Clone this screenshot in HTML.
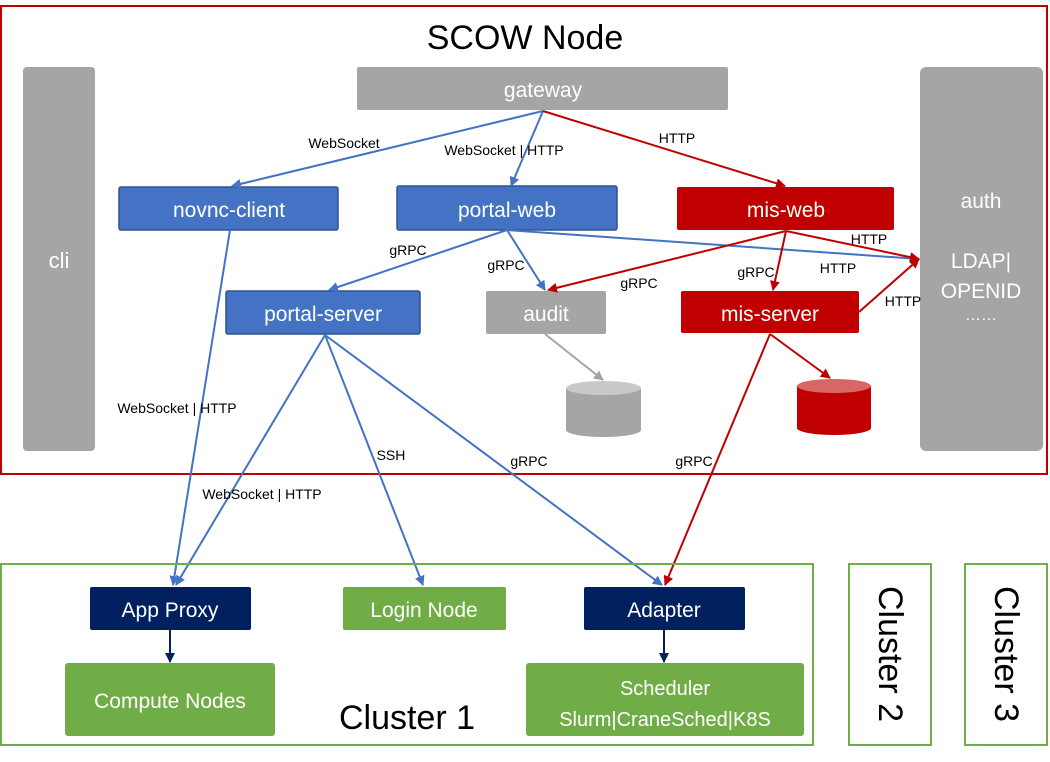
<!DOCTYPE html>
<html><head><meta charset="utf-8"><style>
html,body{margin:0;padding:0;background:#fff;width:1050px;height:762px;overflow:hidden}
svg text{font-family:"Liberation Sans","Noto Sans CJK SC",sans-serif}
</style></head><body>
<svg width="1050" height="762" viewBox="0 0 1050 762" xmlns="http://www.w3.org/2000/svg">
<defs>
<marker id="ab" markerWidth="10" markerHeight="10" refX="9" refY="5" orient="auto" markerUnits="userSpaceOnUse"><path d="M0,0 L10,5 L0,10 z" fill="#4472c4"/></marker>
<marker id="ar" markerWidth="10" markerHeight="10" refX="9" refY="5" orient="auto" markerUnits="userSpaceOnUse"><path d="M0,0 L10,5 L0,10 z" fill="#c00000"/></marker>
<marker id="ag" markerWidth="10" markerHeight="10" refX="9" refY="5" orient="auto" markerUnits="userSpaceOnUse"><path d="M0,0 L10,5 L0,10 z" fill="#a5a5a5"/></marker>
<marker id="an" markerWidth="10" markerHeight="10" refX="9" refY="5" orient="auto" markerUnits="userSpaceOnUse"><path d="M0,0 L10,5 L0,10 z" fill="#002060"/></marker>
</defs>
<!-- SCOW Node box -->
<rect x="1" y="6" width="1046" height="468" fill="none" stroke="#c00000" stroke-width="2"/>
<text x="525" y="49" font-size="34" text-anchor="middle" fill="#000">SCOW Node</text>
<rect x="23" y="67" width="72" height="384" rx="4" fill="#a5a5a5"/>
<text x="59" y="268" font-size="22" fill="#fff" text-anchor="middle">cli</text>
<rect x="357" y="67" width="371" height="43" rx="2" fill="#a5a5a5"/>
<text x="543" y="97" font-size="21" fill="#fff" text-anchor="middle">gateway</text>
<rect x="920" y="67" width="123" height="384" rx="6" fill="#a5a5a5"/>
<text x="981" y="208" font-size="21" fill="#fff" text-anchor="middle">auth</text>
<text x="981" y="268" font-size="21" fill="#fff" text-anchor="middle">LDAP|</text>
<text x="981" y="298" font-size="21" fill="#fff" text-anchor="middle">OPENID</text>
<text x="981" y="320" font-size="16" fill="#fff" text-anchor="middle">……</text>

<rect x="119" y="187" width="219" height="43" rx="2" fill="#4472c4" stroke="#2f528f" stroke-width="1.5"/>
<text x="229" y="217" font-size="21" fill="#fff" text-anchor="middle">novnc-client</text>
<rect x="397" y="186" width="220" height="44" rx="2" fill="#4472c4" stroke="#2f528f" stroke-width="1.5"/>
<text x="507" y="217" font-size="21" fill="#fff" text-anchor="middle">portal-web</text>
<rect x="677" y="187" width="217" height="43" rx="2" fill="#c00000"/>
<text x="786" y="217" font-size="21" fill="#fff" text-anchor="middle">mis-web</text>
<rect x="226" y="291" width="194" height="43" rx="2" fill="#4472c4" stroke="#2f528f" stroke-width="1.5"/>
<text x="323" y="321" font-size="21" fill="#fff" text-anchor="middle">portal-server</text>
<rect x="486" y="291" width="120" height="43" rx="2" fill="#a5a5a5"/>
<text x="546" y="321" font-size="21" fill="#fff" text-anchor="middle">audit</text>
<rect x="681" y="291" width="178" height="42" rx="2" fill="#c00000"/>
<text x="770" y="321" font-size="21" fill="#fff" text-anchor="middle">mis-server</text>

<!-- cylinders -->
<path d="M566,388 L566,430 A37.5,7 0 0 0 641,430 L641,388 Z" fill="#a5a5a5"/>
<ellipse cx="603.5" cy="388" rx="37.5" ry="7" fill="#c9c9c9"/>
<path d="M797,386 L797,428 A37,7 0 0 0 871,428 L871,386 Z" fill="#c00000"/>
<ellipse cx="834" cy="386" rx="37" ry="7" fill="#d86666"/>

<!-- arrows blue -->
<g stroke="#4472c4" stroke-width="2" fill="none" marker-end="url(#ab)">
<line x1="543" y1="111" x2="232" y2="186"/>
<line x1="543" y1="111" x2="511" y2="186"/>
<line x1="507" y1="230" x2="329" y2="290"/>
<line x1="507" y1="230" x2="545" y2="290"/>
<line x1="507" y1="230" x2="919" y2="259"/>
<line x1="230" y1="230" x2="173" y2="585"/>
<line x1="325" y1="335" x2="176" y2="585"/>
<line x1="325" y1="335" x2="423" y2="585"/>
<line x1="325" y1="335" x2="662" y2="585"/>
</g>
<g stroke="#c00000" stroke-width="2" fill="none" marker-end="url(#ar)">
<line x1="543" y1="111" x2="785" y2="186"/>
<line x1="786" y1="231" x2="548" y2="290"/>
<line x1="786" y1="231" x2="773" y2="290"/>
<line x1="786" y1="231" x2="919" y2="259"/>
<line x1="859" y1="312" x2="919" y2="259"/>
<line x1="770" y1="334" x2="830" y2="378"/>
<line x1="770" y1="334" x2="665" y2="585"/>
</g>
<line x1="545" y1="334" x2="603" y2="380" stroke="#a5a5a5" stroke-width="2" marker-end="url(#ag)"/>

<!-- labels -->
<g font-size="14" fill="#000" text-anchor="middle">
<text x="344" y="148">WebSocket</text>
<text x="504" y="155">WebSocket | HTTP</text>
<text x="677" y="143">HTTP</text>
<text x="408" y="255">gRPC</text>
<text x="506" y="270">gRPC</text>
<text x="639" y="288">gRPC</text>
<text x="756" y="277">gRPC</text>
<text x="869" y="244">HTTP</text>
<text x="838" y="273">HTTP</text>
<text x="903" y="306">HTTP</text>
<text x="177" y="413">WebSocket | HTTP</text>
<text x="391" y="460">SSH</text>
<text x="529" y="466">gRPC</text>
<text x="694" y="466">gRPC</text>
<text x="262" y="499">WebSocket | HTTP</text>
</g>

<!-- clusters -->
<rect x="1" y="564" width="812" height="181" fill="none" stroke="#70ad47" stroke-width="2"/>
<rect x="849" y="564" width="82" height="181" fill="none" stroke="#70ad47" stroke-width="2"/>
<rect x="965" y="564" width="82" height="181" fill="none" stroke="#70ad47" stroke-width="2"/>
<text x="890" y="654" font-size="34" fill="#000" text-anchor="middle" transform="rotate(90 890 654)" dominant-baseline="central">Cluster 2</text>
<text x="1006" y="654" font-size="34" fill="#000" text-anchor="middle" transform="rotate(90 1006 654)" dominant-baseline="central">Cluster 3</text>
<text x="407" y="729" font-size="34" fill="#000" text-anchor="middle">Cluster 1</text>

<rect x="90" y="587" width="161" height="43" rx="2" fill="#002060"/>
<text x="170" y="617" font-size="21" fill="#fff" text-anchor="middle">App Proxy</text>
<rect x="343" y="587" width="163" height="43" rx="2" fill="#70ad47"/>
<text x="424" y="617" font-size="21" fill="#fff" text-anchor="middle">Login Node</text>
<rect x="584" y="587" width="161" height="43" rx="2" fill="#002060"/>
<text x="664" y="617" font-size="21" fill="#fff" text-anchor="middle">Adapter</text>
<rect x="65" y="663" width="210" height="73" rx="3" fill="#70ad47"/>
<text x="170" y="708" font-size="21" fill="#fff" text-anchor="middle">Compute Nodes</text>
<rect x="526" y="663" width="278" height="73" rx="3" fill="#70ad47"/>
<text x="665" y="695" font-size="20" fill="#fff" text-anchor="middle">Scheduler</text>
<text x="665" y="726" font-size="20" fill="#fff" text-anchor="middle">Slurm|CraneSched|K8S</text>
<g stroke="#002060" stroke-width="2" marker-end="url(#an)">
<line x1="170" y1="630" x2="170" y2="662"/>
<line x1="664" y1="630" x2="664" y2="662"/>
</g>
</svg>
</body></html>
